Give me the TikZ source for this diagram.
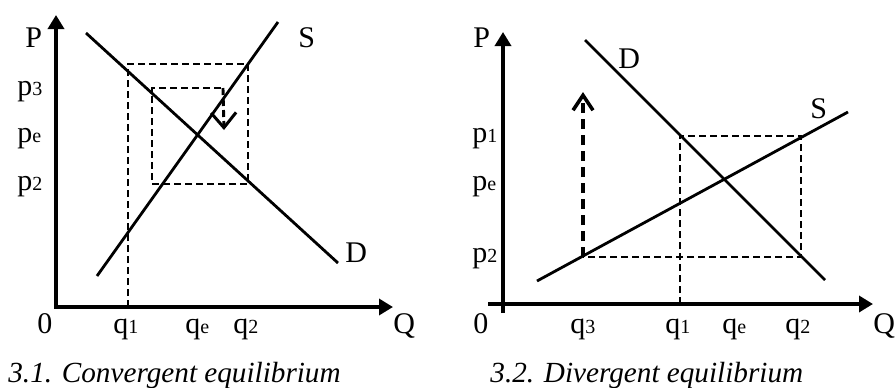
\documentclass[tikz,border=0pt]{standalone}
\usepackage{fontspec}
\setmainfont{Liberation Serif}
\usetikzlibrary{arrows.meta}
\newcommand{\ix}[1]{{\fontsize{10}{10}\selectfont #1}}

\begin{document}
\begin{tikzpicture}[
    x=0.5pt, y=-0.5pt,
    axis/.style={line width=1.7pt, -{Triangle[length=7pt, width=8pt]}},
    curve/.style={line width=1.4pt},
    guide/.style={line width=1.45pt, dash pattern=on 3.5pt off 2pt},
    move/.style={line width=1.45pt, dash pattern=on 3.5pt off 2pt},
    lbl/.style={anchor=base west, inner sep=0pt, font=\fontsize{15}{18}\selectfont},
    figcap/.style={anchor=base west, inner sep=0pt, font=\fontsize{14.6}{18}\selectfont\itshape},
]
\useasboundingbox (0,0) rectangle (896,387);

% 3.1 convergent
\coordinate (o1) at (56,307);
\coordinate (ytip1) at (56,15);
\coordinate (xtip1) at (393,307);
\coordinate (d1a) at (86,33);
\coordinate (d1b) at (338,263);
\coordinate (s1a) at (97,276);
\coordinate (s1b) at (278,22);
\coordinate (q1) at (128,307);
\coordinate (a1) at (128,64);
\coordinate (b1) at (248,64);
\coordinate (c1) at (248,184);
\coordinate (e1) at (152,184);
\coordinate (f1) at (152,88);
\coordinate (g1) at (223,88);
\coordinate (h1) at (224,130);

\draw[axis] (o1) -- (ytip1);
\draw[axis] ([xshift=-0.8pt]o1) -- (xtip1);
\draw[curve] (d1a) -- (d1b);
\draw[curve] (s1a) -- (s1b);
\draw[guide] (q1) -- (a1) -- (b1) -- (c1) -- (e1) -- (f1) -- (g1);
\draw[move, -{Straight Barb[length=7.5pt, width=12.5pt, line width=1.5pt]}] (g1) -- (h1);

\node[lbl] (P1) at (25,47) {P};
\node[lbl] (S1) at (298,47) {S};
\node[lbl] (D1) at (345,262) {D};
\node[lbl] (Q1) at (393,333) {Q};
\node[lbl] (O1) at (37,333) {0};
\node[lbl] (p31) at (17,95) {p\ix{3}};
\node[lbl] (pe1) at (17,142) {p\ix{e}};
\node[lbl] (p21) at (17,190) {p\ix{2}};
\node[lbl] (q11) at (113,333) {q\ix{1}};
\node[lbl] (qe1) at (185,333) {q\ix{e}};
\node[lbl] (q21) at (233,333) {q\ix{2}};
\node[figcap] (cap1) at (8,382) {3.1. Convergent equilibrium};

% 3.2 divergent
\coordinate (ybot2) at (503,313);
\coordinate (ytip2) at (503,32);
\coordinate (xbot2) at (488,304);
\coordinate (xtip2) at (873,304);
\coordinate (d2a) at (585,40);
\coordinate (d2b) at (825,280);
\coordinate (s2a) at (537,281);
\coordinate (s2b) at (848,112);
\coordinate (q12) at (680,304);
\coordinate (a2) at (680,136);
\coordinate (b2) at (801,136);
\coordinate (c2) at (801,257);
\coordinate (e2) at (583,257);
\coordinate (f2) at (583,92);

\draw[axis] (ybot2) -- (ytip2);
\draw[axis] (xbot2) -- (xtip2);
\draw[curve] (d2a) -- (d2b);
\draw[curve] (s2a) -- (s2b);
\draw[guide] (q12) -- (a2) -- (b2) -- (c2) -- (e2);
\draw[move, line width=2pt, dash pattern=on 5pt off 3pt, -{Straight Barb[length=7.5pt, width=10pt, line width=1.8pt]}] (e2) -- (f2);

\node[lbl] (P2) at (473,47) {P};
\node[lbl] (D2) at (618,68) {D};
\node[lbl] (S2) at (810,118) {S};
\node[lbl] (Q2) at (873,333) {Q};
\node[lbl] (O2) at (473,333) {0};
\node[lbl] (p12) at (472,142) {p\ix{1}};
\node[lbl] (pe2) at (472,190) {p\ix{e}};
\node[lbl] (p22) at (472,262) {p\ix{2}};
\node[lbl] (q32) at (570,333) {q\ix{3}};
\node[lbl] (q1l2) at (665,333) {q\ix{1}};
\node[lbl] (qe2) at (722,333) {q\ix{e}};
\node[lbl] (q22) at (785,333) {q\ix{2}};
\node[figcap] (cap2) at (490,382) {3.2. Divergent equilibrium};
\end{tikzpicture}
\end{document}
